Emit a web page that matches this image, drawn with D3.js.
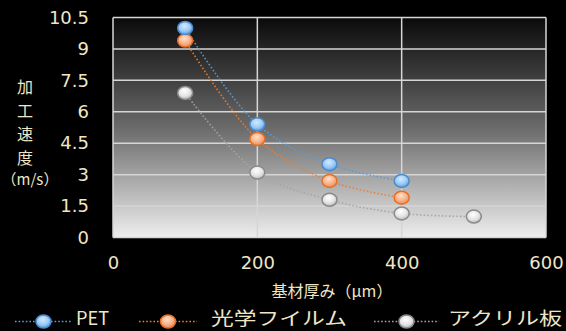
<!DOCTYPE html>
<html><head><meta charset="utf-8">
<script src="https://cdn.jsdelivr.net/npm/d3@7"></script>
<style>
html,body{margin:0;padding:0;background:#000;}
svg{display:block;}
text{font-family:"Noto Sans CJK JP","Noto Sans",sans-serif;fill:#efe6c6;}
</style></head>
<body><svg id="c" width="566" height="331"></svg>
<script>
const thickness = [100, 200, 300, 400, 500];
const petValues = [10.0, 5.4, 3.5, 2.7];
const opticalValues = [9.4, 4.7, 2.7, 1.9];
const acrylicValues = [6.9, 3.1, 1.8, 1.15, 1.0];
const seriesNames = ["PET", "光学フイルム", "アクリル板"];
const xTicks = [0, 200, 400, 600];
const yTicks = [0, 1.5, 3, 4.5, 6, 7.5, 9, 10.5];
const yTitleChars = ["加", "工", "速", "度"];
const yTitleUnit = "（m/s）";
const xTitle = "基材厚み（μm）";

const series = [
  {name: seriesNames[0], values: petValues, line: "#5b9bd5", stroke: "#4a8ad0", light: "#d2eaff", mid: "#9ccaf5", dark: "#5c9ee0"},
  {name: seriesNames[1], values: opticalValues, line: "#ed7d31", stroke: "#e2702a", light: "#ffe0c8", mid: "#f8b088", dark: "#ee8a50"},
  {name: seriesNames[2], values: acrylicValues, line: "#a5a5a5", stroke: "#8a8a8a", light: "#ffffff", mid: "#e4e4e4", dark: "#b8b8b8"}
];

const svg = d3.select("#c");
const L = 113, R = 546, T = 17.5, B = 237.5;
const x = d3.scaleLinear().domain([0, 600]).range([L, R]);
const y = d3.scaleLinear().domain([0, 10.5]).range([B, T]);

const defs = svg.append("defs");
const bg = defs.append("linearGradient").attr("id", "bg").attr("x1", 0).attr("x2", 0).attr("y1", 0).attr("y2", 1);
bg.append("stop").attr("offset", "0%").attr("stop-color", "#0a0a0a");
bg.append("stop").attr("offset", "50%").attr("stop-color", "#6a6a6a");
bg.append("stop").attr("offset", "100%").attr("stop-color", "#eeeeee");

series.forEach((s, i) => {
  const g = defs.append("radialGradient").attr("id", "m" + i).attr("cx", "45%").attr("cy", "35%").attr("r", "65%");
  g.append("stop").attr("offset", "0%").attr("stop-color", s.light);
  g.append("stop").attr("offset", "60%").attr("stop-color", s.mid);
  g.append("stop").attr("offset", "100%").attr("stop-color", s.dark);
});

svg.append("rect").attr("x", L).attr("y", T).attr("width", R - L).attr("height", B - T).attr("fill", "url(#bg)");

// gridlines
svg.append("g").selectAll("line").data(yTicks).join("line")
  .attr("x1", L).attr("x2", R).attr("y1", d => y(d)).attr("y2", d => y(d))
  .attr("stroke", "#d6d6d6").attr("stroke-width", 1.5);
svg.append("g").selectAll("line").data(xTicks).join("line")
  .attr("y1", T).attr("y2", B).attr("x1", d => x(d)).attr("x2", d => x(d))
  .attr("stroke", "#d6d6d6").attr("stroke-width", 1.5);

// axes labels via d3 axes
const tickFont = '"DejaVu Sans","Noto Sans",sans-serif';
const yAxis = svg.append("g").attr("transform", `translate(${L},0)`)
  .call(d3.axisLeft(y).tickValues(yTicks).tickFormat(d => String(d)).tickSize(0).tickPadding(24));
yAxis.select(".domain").remove();
yAxis.selectAll("text").attr("font-size", 18).style("font-family", tickFont);

const xAxis = svg.append("g").attr("transform", `translate(0,${B})`)
  .call(d3.axisBottom(x).tickValues(xTicks).tickFormat(d => String(d)).tickSize(0).tickPadding(19));
xAxis.select(".domain").remove();
xAxis.selectAll("text").attr("font-size", 18).style("font-family", tickFont);

// axis titles
svg.append("text").attr("x", 332).attr("y", 297).attr("text-anchor", "middle").attr("font-size", 16).text(xTitle);
svg.append("g").selectAll("text").data(yTitleChars).join("text")
  .attr("x", 25).attr("y", (d, i) => 93 + i * 23.5).attr("text-anchor", "middle").attr("font-size", 16).text(d => d);
svg.append("text").attr("x", 30).attr("y", 185).attr("text-anchor", "middle").attr("font-size", 15).text(yTitleUnit);

// lines
const line = d3.line().x(d => x(d[0])).y(d => y(d[1])).curve(d3.curveCatmullRom.alpha(0.5));
series.forEach((s) => { s.pts = s.values.map((v, j) => [thickness[j], v]); });
[2, 1, 0].forEach(i => {
  const s = series[i];
  svg.append("path").datum(s.pts).attr("d", line).attr("fill", "none")
    .attr("stroke", s.line).attr("stroke-width", 1.6).attr("stroke-dasharray", "1.6,2").attr("opacity", 0.9);
});
[2, 1, 0].forEach(i => {
  const s = series[i];
  svg.append("g").selectAll("ellipse").data(s.pts).join("ellipse")
    .attr("cx", d => x(d[0])).attr("cy", d => y(d[1])).attr("rx", 7.5).attr("ry", 6.5)
    .attr("fill", `url(#m${i})`).attr("stroke", s.stroke).attr("stroke-width", 1.5);
});

// legend
const legendPos = [{x0: 15, x1: 72, tx: 76, w: 33}, {x0: 139, x1: 197, tx: 211, w: 136}, {x0: 374, x1: 439, tx: 448, w: 114}];
const lg = svg.append("g");
series.forEach((s, i) => {
  const p = legendPos[i];
  const cy = 321.5;
  lg.append("line").attr("x1", p.x0).attr("x2", p.x1).attr("y1", cy).attr("y2", cy)
    .attr("stroke", s.line).attr("stroke-width", 1.6).attr("stroke-dasharray", "1.6,2");
  lg.append("ellipse").attr("cx", (p.x0 + p.x1) / 2).attr("cy", cy).attr("rx", 7.5).attr("ry", 6.5)
    .attr("fill", `url(#m${i})`).attr("stroke", s.stroke).attr("stroke-width", 1.5);
  lg.append("text").attr("x", p.tx).attr("y", 325).attr("font-size", 18)
    .attr("textLength", p.w).attr("lengthAdjust", "spacingAndGlyphs").text(s.name);
});
</script></body></html>
